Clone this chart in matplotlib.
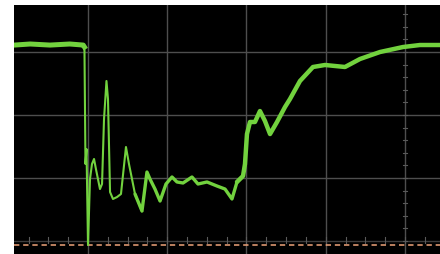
import matplotlib
matplotlib.use("Agg")
import matplotlib.pyplot as plt
import numpy as np

# Trace, in screen divisions (time div, volt div)
t_div = [0.07, 0.27, 0.52, 0.77, 0.94, 0.955, 0.968, 0.981, 1.00, 1.025, 1.05, 1.076,
         1.10, 1.151, 1.177, 1.202, 1.233, 1.252, 1.278, 1.315, 1.366, 1.416, 1.479,
         1.517, 1.593, 1.681, 1.744, 1.782, 1.845, 1.909, 1.984, 2.06, 2.123, 2.199,
         2.312, 2.388, 2.502, 2.628, 2.729, 2.817, 2.88, 2.956, 2.981, 3.006, 3.044,
         3.107, 3.17, 3.233, 3.297, 3.385, 3.486, 3.549, 3.675, 3.839, 3.991, 4.243,
         4.432, 4.685, 4.975, 5.189, 5.45]
v_div = [3.11, 3.127, 3.11, 3.127, 3.11, 3.079, 1.222, 1.46, -0.063, 0.984, 1.222, 1.302,
         1.143, 0.825, 0.905, 1.937, 2.54, 2.254, 0.778, 0.667, 0.698, 0.746, 1.492,
         1.222, 0.746, 0.476, 1.095, 0.984, 0.825, 0.635, 0.905, 1.016, 0.937, 0.921,
         1.016, 0.905, 0.937, 0.873, 0.825, 0.667, 0.937, 1.032, 1.222, 1.698, 1.889,
         1.889, 2.063, 1.905, 1.698, 1.889, 2.127, 2.254, 2.54, 2.762, 2.794, 2.762,
         2.889, 3.0, 3.079, 3.111, 3.111]
ref_level = -0.063
grid_x = [1, 2, 3, 4, 5]
grid_y = [0, 1, 2, 3]

fig = plt.figure(figsize=(4.4, 2.55), dpi=100)
ax = fig.add_axes([14/440, 0, 426/440, 249/255])
ax.set_facecolor("black")
ax.set_xlim(0.066, 5.442)
ax.set_ylim(-0.206, 3.746)
for s in ax.spines.values():
    s.set_visible(False)
ax.set_xticks([]); ax.set_yticks([])

for gx in grid_x:
    ax.axvline(gx, color="#4e4e4e", lw=1.0, zorder=1)
for gy in grid_y:
    ax.axhline(gy, color="#4e4e4e" if gy else "#3c3c3c", lw=1.0, zorder=1)

# minor ticks along the axes lines
for mx in np.arange(0.25, 5.44, 0.25):
    ax.plot([mx, mx], [-0.03, 0.07], color="#5a5a5a", lw=0.8, zorder=1)
for my in np.arange(-0.2, 3.75, 0.2):
    ax.plot([4.97, 5.03], [my, my], color="#5a5a5a", lw=0.8, zorder=1)

ax.axhline(ref_level, color="#f0a47a", lw=1.1, ls=(0, (3.5, 2.5)), zorder=2)

t = np.array(t_div); v = np.array(v_div)
green = "#72d23e"
ax.plot(t[:6], v[:6], color=green, lw=3.6, solid_joinstyle="round", zorder=3)
ax.plot(t[4:26], v[4:26], color=green, lw=1.5, solid_joinstyle="round", zorder=3)
ax.plot(t[24:41], v[24:41], color=green, lw=2.4, solid_joinstyle="round",
        solid_capstyle="round", zorder=3)
ax.plot(t[40:], v[40:], color=green, lw=3.2, solid_joinstyle="round",
        solid_capstyle="round", zorder=3)

fig.savefig("out.png", dpi=100, facecolor="white")
